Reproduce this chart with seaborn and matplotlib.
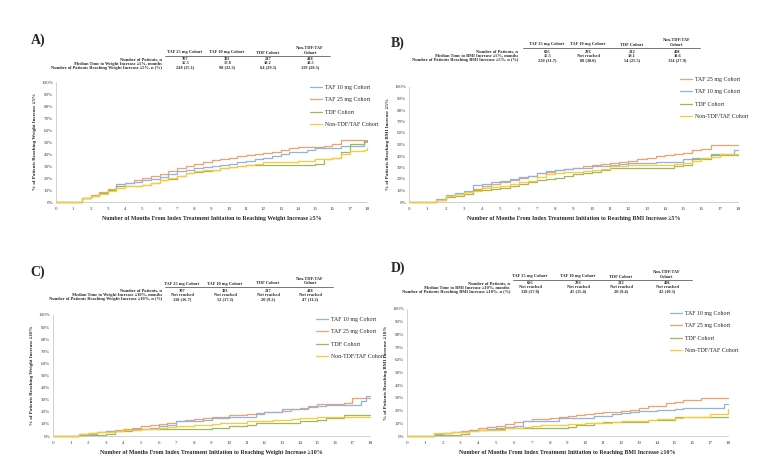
import matplotlib
matplotlib.use("Agg")
import matplotlib.pyplot as plt
import seaborn as sns
import pandas as pd
from matplotlib.lines import Line2D

# ---------------- data ----------------
MONTHS = [0, 1, 1.5, 2, 2.5, 3, 3.5, 4, 4.5, 5, 5.5, 6, 6.5, 7, 7.5, 8, 8.5, 9, 9.5,
          10, 10.5, 11, 11.5, 12, 12.5, 13, 13.5, 14, 14.5, 15, 15.5, 16, 16.5, 17, 17.5, 17.8, 18]
X_TICKS = list(range(0, 19))
Y_TICKS = list(range(0, 101, 10))

COHORTS = ["TAF 25 mg Cohort", "TAF 10 mg Cohort", "TDF Cohort", "Non-TDF/TAF Cohort"]
TABLE_HEADERS = ["TAF 25 mg Cohort", "TAF 10 mg Cohort", "TDF Cohort", "Non-TDF/TAF\nCohort"]

# Panel A: weight increase >=5%
A_taf25 = [0,0,3,5.5,8,10.5,13,16,18,20,21.5,23.5,26,28,30,32,33.5,35,36,37,38,39,40,40.5,42,43.5,45,45.5,46,46,47,48.5,52,52,52,52,52]
A_taf10 = [0,0,3,5,7.5,10,15,16,17,18.5,19.5,21,23,25.5,27,28,29,30,30.5,31.5,33,34.5,36,37,38.5,40,42,42,43,45,45,45,47,47,47,50,50]
A_tdf = [0,0,3,5,7.5,10,13,13.5,13.5,14,16,18,19.5,22,24,25,26,27,28,29,30,30.5,31,31,31,31,31,31,31,32,36,37,42,48,48,51,51]
A_non = [0,0,3,5,7,9.5,12,13,13.5,14.5,16,18,20,22,24,25.5,26.5,27,28,29.5,30,31,32,33,33,33.5,33.5,34,34,35.5,36,37,40,42.5,42.5,43,45]

# Panel B: BMI increase >=5%
B_taf25 = [0,0,2,5,7,9,11.5,14,15.5,17.5,19,21,23,25,26.5,28,29,30,31,32,33,34,35,36,37,38.5,40,41,42,43,45,46,50,50,50,50,50]
B_taf10 = [0,0,3,6,8,10,14.5,16,17,18.5,20,21.5,23,25.5,27,28,28.5,29.5,30,31,31.5,32,33,33.5,33.5,33.5,35,35,35,37,38,38,42,42,42,45,45]
B_tdf = [0,0,2,4,5.5,7,10.5,10.5,11,12.5,14,16,17,19.5,20,21,22.5,24,25.5,26.5,27.5,29.5,29.5,29.5,29.5,29.5,29.5,30,31.5,32,37,37.5,41,41,41,41,41]
B_non = [0,0,2,5,7,9,10,12,13,14,15.5,17,18,21.5,24,25,26,26.5,27,28,29,31,31.5,32,32,32,32,32.5,33,34,36,38,39,41.5,41.5,42,42]

# Panel C: weight increase >=10%
C_taf25 = [0,0,1.5,2.5,3,4,5,6,7,8,9,10,11,12.5,13,14,14.5,15.5,16,17,17.5,18,19,19.5,20,21,22,23,25,26.5,26.5,26.5,27,31,31,31,31]
C_taf10 = [0,0,1.5,2,3,4,4.5,5,5.5,6,7,8,9,12,12,12,13,14.5,15,15.5,15.5,16,18.5,19.5,20,22,22,22.5,24,25,26,26,26,26,29,33,33]
C_tdf = [0,0,0.5,1,1,1.5,4,4.5,5,5.5,6,6,6,6,6,6,6,6.5,7,8.5,8.5,9,10.5,11,11,11,11,12,12,13,14.5,15,17.5,17.5,17.5,17.5,17.5]
C_non = [0,0,2,2.5,3,3.5,4,5,5,5.5,6,7,7.5,8,8.5,9,9.5,10,10.5,11,11,12,12,12.5,13,13.5,14,14.5,15,15.5,15.5,16,16,16,16,16,16]

# Panel D: BMI increase >=10%
D_taf25 = [0,0,1.5,2.5,3,4,5,6.5,7,8,9.5,11,12,13,13.5,14,15,16,16.5,17,18,19,19,19.5,20.5,22,23.5,24,26,26.5,28,28,30,30,30,30,30]
D_taf10 = [0,0,1.5,2,3,3.5,4.5,5,5.5,6,7,7.5,11.5,11.5,12,12,14,14,14,14,16,16,17.5,18,19,20,20,20.5,20.5,21,22,22,22,22,22,25,25.5]
D_tdf = [0,0,1,1,1,1.5,4,4.5,5,5.5,6,6,6,6,6,6,6,7,8.5,9,10,11,11,11,11,11,12.5,12.5,12.5,15,15,15,15,15,15,15,15]
D_non = [0,0,2,2.5,3,3.5,4,4.5,5,5,6,6.5,7,7.5,8.5,8.5,9,9.5,9.5,10,10,10.5,11,11.5,11.5,12,12.5,13,13,14,15,15,15,17,17,17,21]

# tables
A_n = ["707", "303", "217", "418"]
A_median = ["16.5", "17.8", "18.2", "18.5"]
A_reach = ["248 (35.1)", "98 (32.3)", "64 (29.5)", "119 (28.5)"]
B_n = ["695", "293", "212", "408"]
B_median = ["16.5", "Not reached", "19.1", "18.6"]
B_reach = ["220 (31.7)", "88 (30.0)", "54 (25.5)", "114 (27.9)"]
C_n = ["707", "303", "217", "418"]
C_median = ["Not reached", "Not reached", "Not reached", "Not reached"]
C_reach = ["118 (16.7)", "52 (17.2)", "20 (9.2)", "47 (11.2)"]
D_n = ["695", "293", "212", "408"]
D_median = ["Not reached", "Not reached", "Not reached", "Not reached"]
D_reach = ["118 (17.0)", "45 (15.4)", "20 (9.4)", "42 (10.3)"]

PALETTE = {"TAF 25 mg Cohort": "#F4A06C", "TAF 10 mg Cohort": "#8DB4E2",
           "TDF Cohort": "#9BBB59", "Non-TDF/TAF Cohort": "#FFC936"}

# ---------------- style ----------------
sns.set_theme(style="white")
plt.rcParams["font.family"] = ["Liberation Serif", "DejaVu Serif"]

W, H = 782, 476
fig = plt.figure(figsize=(W / 100, H / 100), dpi=100)


def fx(x):
    return x / W


def fy(y):
    return 1 - y / H


panels = [
    dict(label="A)", lab_xy=(38, 40), box=(56, 82, 367, 202),
         series=[A_taf25, A_taf10, A_tdf, A_non],
         ylabel="% of Patients Reaching Weight Increase \u22655%",
         xlabel="Number of Months From Index Treatment Initiation to Reaching Weight Increase \u22655%",
         legend_order=["TAF 10 mg Cohort", "TAF 25 mg Cohort", "TDF Cohort", "Non-TDF/TAF Cohort"],
         legend_xy=(310, 85),
         table=dict(rows=["Number of Patients, n",
                          "Median Time to Weight Increase \u22655%, months",
                          "Number of Patients Reaching Weight Increase \u22655%, n (%)"],
                    vals=[A_n, A_median, A_reach], cols=[185, 227, 268, 310],
                    label_x=162, line=(165, 330, 56), rows_y=[59.5, 63.5, 67.5])),
    dict(label="B)", lab_xy=(398, 43), box=(409, 87, 738, 202),
         series=[B_taf25, B_taf10, B_tdf, B_non],
         ylabel="% of Patients Reaching BMI Increase \u22655%",
         xlabel="Number of Months From Index Treatment Initiation to Reaching BMI Increase \u22655%",
         legend_order=["TAF 25 mg Cohort", "TAF 10 mg Cohort", "TDF Cohort", "Non-TDF/TAF Cohort"],
         legend_xy=(680, 77),
         table=dict(rows=["Number of Patients, n",
                          "Median Time to BMI Increase \u22655%, months",
                          "Number of Patients Reaching BMI Increase \u22655%, n (%)"],
                    vals=[B_n, B_median, B_reach], cols=[547, 588, 632, 677],
                    label_x=518, line=(523, 700, 48), rows_y=[52, 56, 60])),
    dict(label="C)", lab_xy=(38, 272), box=(53, 315, 370, 436),
         series=[C_taf25, C_taf10, C_tdf, C_non],
         ylabel="% of Patients Reaching Weight Increase \u226510%",
         xlabel="Number of Months From Index Treatment Initiation to Reaching Weight Increase \u226510%",
         legend_order=["TAF 10 mg Cohort", "TAF 25 mg Cohort", "TDF Cohort", "Non-TDF/TAF Cohort"],
         legend_xy=(316, 317),
         table=dict(rows=["Number of Patients, n",
                          "Median Time to Weight Increase \u226510%, months",
                          "Number of Patients Reaching Weight Increase \u226510%, n (%)"],
                    vals=[C_n, C_median, C_reach], cols=[182, 225, 268, 310],
                    label_x=162, line=(165, 333, 287), rows_y=[291, 295, 299])),
    dict(label="D)", lab_xy=(398, 268), box=(407, 309, 728, 436),
         series=[D_taf25, D_taf10, D_tdf, D_non],
         ylabel="% of Patients Reaching BMI Increase \u226510%",
         xlabel="Number of Months From Index Treatment Initiation to Reaching BMI Increase \u226510%",
         legend_order=["TAF 10 mg Cohort", "TAF 25 mg Cohort", "TDF Cohort", "Non-TDF/TAF Cohort"],
         legend_xy=(670, 311),
         table=dict(rows=["Number of Patients, n",
                          "Median Time to BMI Increase \u226510%, months",
                          "Number of Patients Reaching BMI Increase \u226510%, n (%)"],
                    vals=[D_n, D_median, D_reach], cols=[530, 578, 621, 667],
                    label_x=510, line=(513, 692, 280), rows_y=[283.5, 287.5, 291.5])),
]

TFS = 3.2  # table font size
for p in panels:
    x0, y0, x1, y1 = p["box"]
    ax = fig.add_axes([fx(x0), fy(y1), (x1 - x0) / W, (y1 - y0) / H])
    rows = []
    for name, vals in zip(COHORTS, p["series"]):
        for m, v in zip(MONTHS, vals):
            rows.append({"Month": m, "Pct": v, "Cohort": name})
    df = pd.DataFrame(rows)
    sns.lineplot(data=df, x="Month", y="Pct", hue="Cohort", palette=PALETTE,
                 hue_order=COHORTS, estimator=None, drawstyle="steps-post",
                 linewidth=0.9, ax=ax, legend=False, clip_on=False, zorder=4)
    ax.set_xlim(0, 18)
    ax.set_ylim(0, 100)
    ax.set_xticks(X_TICKS)
    ax.set_yticks(Y_TICKS)
    ax.set_yticklabels([f"{t}%" for t in Y_TICKS])
    ax.tick_params(axis="both", labelsize=3.6, colors="#404040", length=0, pad=2)
    ax.tick_params(axis="x", length=1.5, width=0.4, color="#bfbfbf", direction="out")
    for s in ["top", "right"]:
        ax.spines[s].set_visible(False)
    for s in ["left", "bottom"]:
        ax.spines[s].set_color("#bfbfbf")
        ax.spines[s].set_linewidth(0.5)
        ax.spines[s].set_zorder(1)
    ax.set_ylabel(p["ylabel"], fontsize=3.6, fontweight="bold", labelpad=3)
    ax.set_xlabel(p["xlabel"], fontsize=4.2, fontweight="bold", labelpad=4)

    handles = [Line2D([], [], color=PALETTE[c], lw=0.9) for c in p["legend_order"]]
    lx, ly = p["legend_xy"]
    fig.legend(handles, p["legend_order"], loc="upper left",
               bbox_to_anchor=(fx(lx), fy(ly)), frameon=False, fontsize=4.2,
               labelspacing=1.25, handlelength=2.0, handletextpad=0.5,
               borderaxespad=0, borderpad=0)

    fig.text(fx(p["lab_xy"][0]), fy(p["lab_xy"][1]), p["label"], fontsize=10,
             fontweight="bold", ha="center", va="center")

    t = p["table"]
    lx0, lx1, ly_line = t["line"]
    fig.add_artist(Line2D([fx(lx0), fx(lx1)], [fy(ly_line), fy(ly_line)],
                          color="#404040", lw=0.5))
    for cx, hdr in zip(t["cols"], TABLE_HEADERS):
        fig.text(fx(cx), fy(ly_line - 1.5), hdr, fontsize=TFS, fontweight="bold",
                 ha="center", va="bottom", multialignment="center", linespacing=1.1)
    for rlab, vals, ry in zip(t["rows"], t["vals"], t["rows_y"]):
        fig.text(fx(t["label_x"]), fy(ry), rlab, fontsize=TFS, fontweight="bold",
                 ha="right", va="center")
        for cx, v in zip(t["cols"], vals):
            fig.text(fx(cx), fy(ry), v, fontsize=TFS, fontweight="bold",
                     ha="center", va="center")

fig.savefig("out.png", dpi=100)
